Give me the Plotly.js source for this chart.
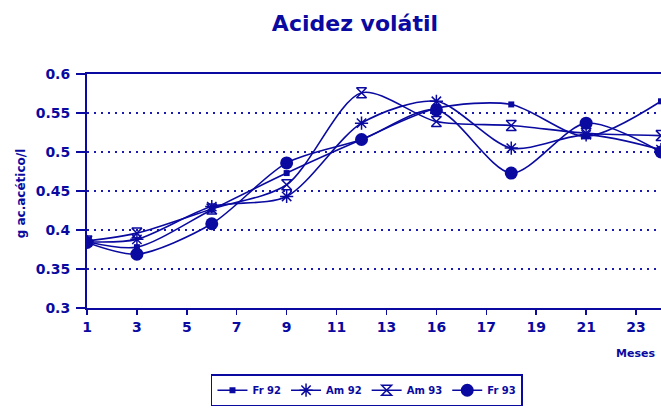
<!DOCTYPE html>
<html>
<head>
<meta charset="utf-8">
<script src="https://cdn.plot.ly/plotly-3.0.1.min.js"></script>
<style>
  html, body { margin: 0; padding: 0; background: #ffffff; }
  #chart { width: 661px; height: 410px; }
</style>
</head>
<body>
<div id="chart"></div>
<script>
// Acidez volátil - four series over the months

// ------------------- Data -------------------
var months = [1, 3, 6, 9, 12, 15, 18, 21, 24];

var fr92 = [0.385, 0.378, 0.426, 0.473, 0.516, 0.556, 0.561, 0.520, 0.565];
var am92 = [0.385, 0.388, 0.430, 0.443, 0.537, 0.565, 0.505, 0.522, 0.503];
var am93 = [0.386, 0.396, 0.427, 0.458, 0.576, 0.539, 0.534, 0.524, 0.521];
var fr93 = [0.384, 0.369, 0.408, 0.486, 0.516, 0.554, 0.473, 0.537, 0.500];

var xTickVals = [1, 3, 5, 7, 9, 11, 13, 15, 17, 19, 21, 23];
var xTickText = ['1', '3', '5', '7', '9', '11', '13', '16', '17', '19', '21', '23'];
var yTickVals = [0.3, 0.35, 0.4, 0.45, 0.5, 0.55, 0.6];
var yTickText = ['0.3', '0.35', '0.4', '0.45', '0.5', '0.55', '0.6'];

// ------------------- Chart -------------------
var blue = '#0a0aa0';
var font = 'DejaVu Sans, Arial, sans-serif';

function series(name, y, symbol, size, lw) {
    return {
        x: months,
        y: y,
        name: name,
        type: 'scatter',
        mode: 'lines+markers',
        line: { color: blue, width: 1.6, shape: 'spline', smoothing: 0.8 },
        marker: { symbol: symbol, size: size, color: blue, line: { color: blue, width: lw } }
    };
}

var data = [
    series('Fr 92', fr92, 'square', 6, 0),
    series('Am 92', am92, 'asterisk-open', 11, 1.5),
    series('Am 93', am93, 'hourglass-open', 10, 1.5),
    series('Fr 93', fr93, 'circle', 13, 0)
];

var layout = {
    width: 661,
    height: 410,
    margin: { l: 87, r: 0, t: 74, b: 102 },
    paper_bgcolor: '#ffffff',
    plot_bgcolor: '#ffffff',
    font: { family: font, color: blue, size: 13 },
    title: {
        text: '<b>Acidez volátil</b>',
        font: { family: font, size: 22, color: blue },
        x: 0.537, xanchor: 'center',
        y: 0.942, yanchor: 'middle'
    },
    xaxis: {
        range: [1, 24],
        tickvals: xTickVals,
        ticktext: xTickText,
        tickfont: { family: font, size: 14, color: blue, weight: 'bold' },
        showgrid: false,
        zeroline: false,
        showline: true,
        linecolor: blue,
        linewidth: 2,
        ticks: 'outside',
        ticklen: 5,
        tickwidth: 1.5,
        tickcolor: blue,
        mirror: true
    },
    yaxis: {
        range: [0.3, 0.6],
        tickvals: yTickVals,
        ticktext: yTickText,
        tickfont: { family: font, size: 14, color: blue, weight: 'bold' },
        showgrid: true,
        gridcolor: '#1a1ab0',
        gridwidth: 1.8,
        griddash: '2px,5px',
        zeroline: false,
        showline: true,
        linecolor: blue,
        linewidth: 2,
        ticks: 'outside',
        ticklen: 9,
        tickwidth: 1.5,
        tickcolor: blue,
        ticklabelstandoff: 3,
        mirror: true
    },
    showlegend: true,
    legend: {
        orientation: 'h',
        x: 0.216, xanchor: 'left',
        y: -0.283, yanchor: 'top',
        bordercolor: blue,
        borderwidth: 1.5,
        bgcolor: '#ffffff',
        font: { family: font, size: 10, color: blue, weight: 'bold' },
        itemwidth: 30,
        tracegroupgap: 0
    },
    annotations: [
        {
            text: '<b>g ac.acético/l</b>',
            xref: 'paper', yref: 'paper',
            x: -0.115, y: 0.49,
            xanchor: 'center', yanchor: 'middle',
            textangle: -90,
            showarrow: false,
            font: { family: font, size: 12, color: blue }
        },
        {
            text: '<b>Meses</b>',
            xref: 'paper', yref: 'paper',
            x: 0.918, y: -0.195,
            xanchor: 'left', yanchor: 'middle',
            showarrow: false,
            font: { family: font, size: 11, color: blue }
        }
    ]
};

Plotly.newPlot('chart', data, layout, { displayModeBar: false, staticPlot: true });
</script>
</body>
</html>
